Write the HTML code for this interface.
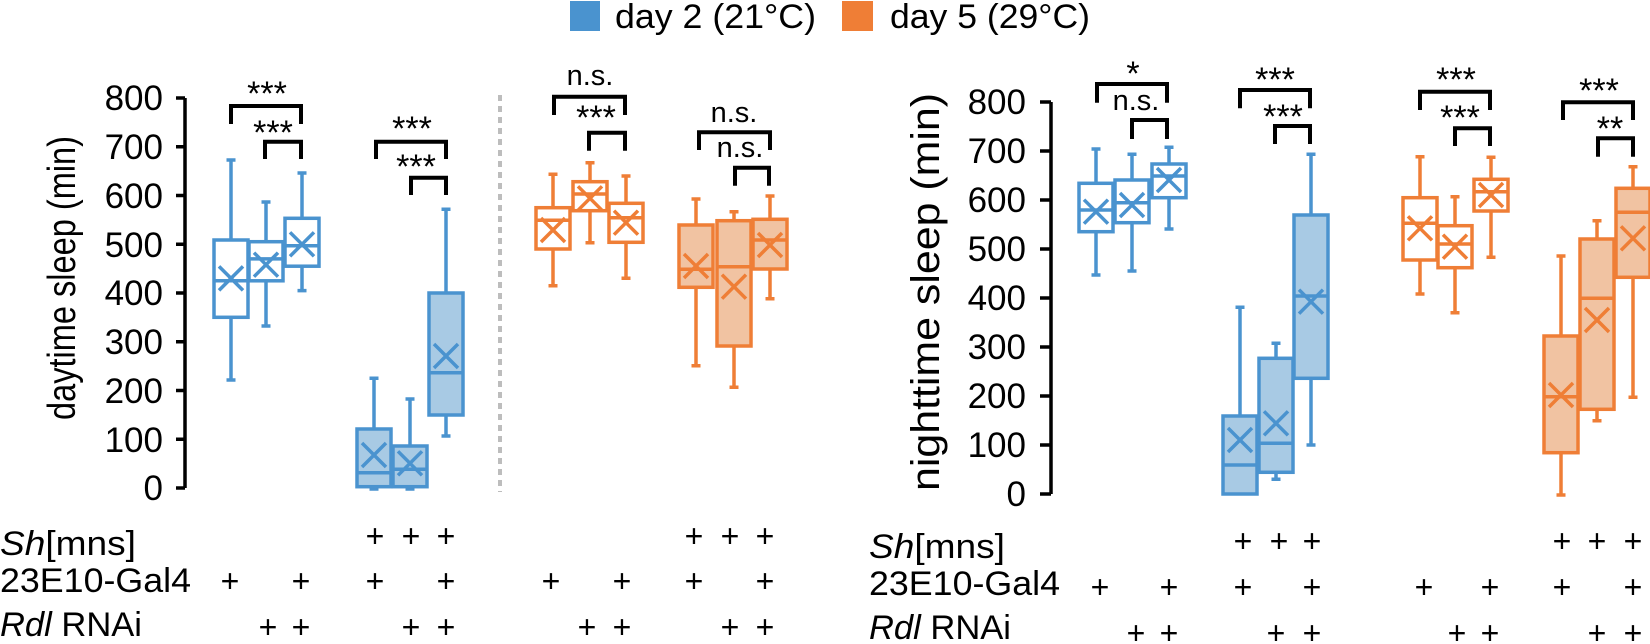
<!DOCTYPE html><html><head><style>body{margin:0;background:#fff}svg{display:block}text{font-family:"Liberation Sans",sans-serif}</style></head><body>
<svg width="1650" height="644" viewBox="0 0 1650 644" xmlns="http://www.w3.org/2000/svg">
<defs>
<g id="x"><path d="M-12,-12L12,12M-12,12L12,-12" stroke-width="3.5"/></g>
</defs>
<!-- legend -->
<rect x="570" y="1" width="30" height="30" fill="#4a93cf"/>
<text x="615" y="28" font-size="34" textLength="201" lengthAdjust="spacingAndGlyphs">day 2 (21°C)</text>
<rect x="842" y="1" width="31" height="30" fill="#ef7e36"/>
<text x="890" y="28" font-size="34" textLength="200" lengthAdjust="spacingAndGlyphs">day 5 (29°C)</text>

<!-- left axis -->
<g stroke="#000" stroke-width="3.5" fill="none">
<path d="M185,98V488M176,98H185M176,146.75H185M176,195.5H185M176,244.25H185M176,293H185M176,341.75H185M176,390.5H185M176,439.25H185M176,488H185"/>
</g>
<g font-size="35" text-anchor="end">
<text x="163" y="110">800</text><text x="163" y="159">700</text><text x="163" y="208">600</text><text x="163" y="257">500</text><text x="163" y="305">400</text><text x="163" y="354">300</text><text x="163" y="403">200</text><text x="163" y="452">100</text><text x="163" y="500">0</text>
</g>
<text transform="translate(75,136) rotate(-90)" font-size="39" text-anchor="end" textLength="284" lengthAdjust="spacingAndGlyphs">daytime sleep (min)</text>
<path d="M500,95V492" stroke="#bdbdbd" stroke-width="4" stroke-dasharray="6,5"/>

<!-- right axis -->
<g stroke="#000" stroke-width="3.5" fill="none">
<path d="M1051,102V494M1040,102H1051M1040,151H1051M1040,200H1051M1040,249H1051M1040,298H1051M1040,347H1051M1040,396H1051M1040,445H1051M1040,494H1051"/>
</g>
<g font-size="35" text-anchor="end">
<text x="1026" y="114">800</text><text x="1026" y="163">700</text><text x="1026" y="212">600</text><text x="1026" y="261">500</text><text x="1026" y="310">400</text><text x="1026" y="359">300</text><text x="1026" y="408">200</text><text x="1026" y="457">100</text><text x="1026" y="506">0</text>
</g>
<text transform="translate(939,93) rotate(-90)" font-size="40" text-anchor="end" textLength="398" lengthAdjust="spacingAndGlyphs">nighttime sleep (min)</text>

<!-- blue boxes -->
<g stroke="#4a93cf" stroke-width="3.5">
<g fill="#fff">
<path d="M231,380V160M226.5,380H235.5M226.5,160H235.5" fill="none"/><rect x="214" y="240" width="34" height="77.3"/><path d="M214,280.8H248"/><use href="#x" x="231" y="278.4"/>
<path d="M266,326V202M261.5,326H270.5M261.5,202H270.5" fill="none"/><rect x="249" y="241.7" width="34" height="39.1"/><path d="M249,258.9H283"/><use href="#x" x="266" y="264.7"/>
<path d="M302,290.6V173M297.5,290.6H306.5M297.5,173H306.5" fill="none"/><rect x="285" y="218.3" width="34" height="47.9"/><path d="M285,245.7H319"/><use href="#x" x="302" y="244.3"/>
<path d="M1096,275V149M1091.5,275H1100.5M1091.5,149H1100.5" fill="none"/><rect x="1079" y="183.3" width="34" height="48.4"/><path d="M1079,210H1113"/><use href="#x" x="1096" y="211.7"/>
<path d="M1132,271V154.3M1127.5,271H1136.5M1127.5,154.3H1136.5" fill="none"/><rect x="1115" y="180" width="34" height="42.7"/><path d="M1115,202.7H1149"/><use href="#x" x="1132" y="205"/>
<path d="M1169,229V147.3M1164.5,229H1173.5M1164.5,147.3H1173.5" fill="none"/><rect x="1152" y="164" width="34" height="33.7"/><path d="M1152,176H1186"/><use href="#x" x="1169" y="180"/>
</g>
<g fill="#a8cae4">
<path d="M374,489V378.3M369.5,489H378.5M369.5,378.3H378.5" fill="none"/><rect x="357" y="429" width="34" height="57.7"/><path d="M357,472.7H391"/><use href="#x" x="374" y="455"/>
<path d="M410,489V399M405.5,489H414.5M405.5,399H414.5" fill="none"/><rect x="393" y="446" width="34" height="40.7"/><path d="M393,469.3H427"/><use href="#x" x="410" y="463.3"/>
<path d="M446,436V209.3M441.5,436H450.5M441.5,209.3H450.5" fill="none"/><rect x="429" y="293" width="34" height="122"/><path d="M429,372.7H463"/><use href="#x" x="446" y="356"/>
<path d="M1240,494V307.3M1235.5,307.3H1244.5" fill="none"/><rect x="1223" y="416" width="34" height="78"/><path d="M1223,465H1257"/><use href="#x" x="1240" y="440"/>
<path d="M1276,479.3V343.3M1271.5,479.3H1280.5M1271.5,343.3H1280.5" fill="none"/><rect x="1259" y="358.3" width="34" height="114"/><path d="M1259,443.3H1293"/><use href="#x" x="1276" y="423.3"/>
<path d="M1311,445V154.3M1306.5,445H1315.5M1306.5,154.3H1315.5" fill="none"/><rect x="1294" y="215" width="34" height="163.3"/><path d="M1294,296H1328"/><use href="#x" x="1311" y="301.7"/>
</g>
</g>

<!-- orange boxes -->
<g stroke="#ef7e36" stroke-width="3.5">
<g fill="#fff">
<path d="M553,285.7V174.3M548.5,285.7H557.5M548.5,174.3H557.5" fill="none"/><rect x="536" y="207.7" width="34" height="41.3"/><path d="M536,220.3H570"/><use href="#x" x="553" y="230"/>
<path d="M590,242.7V162.7M585.5,242.7H594.5M585.5,162.7H594.5" fill="none"/><rect x="573" y="181.7" width="34" height="29"/><path d="M573,194H607"/><use href="#x" x="590" y="198.3"/>
<path d="M626,278.3V176M621.5,278.3H630.5M621.5,176H630.5" fill="none"/><rect x="609" y="203.3" width="34" height="39"/><path d="M609,217.7H643"/><use href="#x" x="626" y="222.7"/>
<path d="M1420,294V156.7M1415.5,294H1424.5M1415.5,156.7H1424.5" fill="none"/><rect x="1403" y="197.7" width="34" height="62.3"/><path d="M1403,223.3H1437"/><use href="#x" x="1420" y="228.3"/>
<path d="M1455,312.7V196.7M1450.5,312.7H1459.5M1450.5,196.7H1459.5" fill="none"/><rect x="1438" y="225.7" width="34" height="42"/><path d="M1438,244H1472"/><use href="#x" x="1455" y="246.7"/>
<path d="M1491,257.3V157.3M1486.5,257.3H1495.5M1486.5,157.3H1495.5" fill="none"/><rect x="1474" y="179.3" width="34" height="31.7"/><path d="M1474,191.7H1508"/><use href="#x" x="1491" y="195"/>
</g>
<g fill="#f1c3a2">
<path d="M696,365.7V199M691.5,365.7H700.5M691.5,199H700.5" fill="none"/><rect x="679" y="225" width="34" height="62.3"/><path d="M679,269.3H713"/><use href="#x" x="696" y="266"/>
<path d="M734,387.3V211.7M729.5,387.3H738.5M729.5,211.7H738.5" fill="none"/><rect x="717" y="220.7" width="34" height="125.3"/><path d="M717,266.7H751"/><use href="#x" x="734" y="286.7"/>
<path d="M770,298.7V196M765.5,298.7H774.5M765.5,196H774.5" fill="none"/><rect x="753" y="219.3" width="34" height="49.7"/><path d="M753,240H787"/><use href="#x" x="770" y="245"/>
<path d="M1561,495V256M1556.5,495H1565.5M1556.5,256H1565.5" fill="none"/><rect x="1544" y="336" width="34" height="116.7"/><path d="M1544,396.7H1578"/><use href="#x" x="1561" y="395"/>
<path d="M1597,420.7V220.7M1592.5,420.7H1601.5M1592.5,220.7H1601.5" fill="none"/><rect x="1580" y="239" width="34" height="170.3"/><path d="M1580,298.3H1614"/><use href="#x" x="1597" y="320"/>
<path d="M1633,397.3V166.7M1628.5,397.3H1637.5M1628.5,166.7H1637.5" fill="none"/><rect x="1616" y="188.3" width="34" height="89"/><path d="M1616,212.3H1650"/><use href="#x" x="1633" y="238.3"/>
</g>
</g>

<!-- significance brackets -->
<g stroke="#000" stroke-width="4" fill="none">
<path d="M231,124V106H301V124M265,159V141.7H301V159"/>
<path d="M376,159V141.7H446V159M411,195V177.7H446V195"/>
<path d="M554,115V96.7H625V115M589,150.7V132.7H625V150.7"/>
<path d="M699,150V132.3H770V150M735,185.7V167.7H769V185.7"/>
<path d="M1097,102.7V84H1167V102.7M1132,139V120H1167V139"/>
<path d="M1240,108.3V90H1310V108.3M1275,144V126H1310V144"/>
<path d="M1420,110V91.7H1490V110M1455,146V128.3H1490V146"/>
<path d="M1563,120V102.3H1633V120M1598,156.7V138.3H1633V156.7"/>
</g>
<g font-size="34" text-anchor="middle">
<text x="267" y="105">***</text><text x="273" y="144">***</text>
<text x="412" y="140">***</text><text x="416" y="178">***</text>
<text x="596" y="129">***</text>
<text x="1133" y="85">*</text>
<text x="1275" y="91">***</text><text x="1283" y="128">***</text>
<text x="1456" y="91">***</text><text x="1460" y="129">***</text>
<text x="1599" y="102">***</text><text x="1610" y="140">**</text>
</g>
<g font-size="29" text-anchor="middle">
<text x="590" y="85">n.s.</text>
<text x="734" y="122">n.s.</text><text x="740" y="157">n.s.</text>
<text x="1136" y="110">n.s.</text>
</g>

<!-- bottom labels -->
<g font-size="34">
<text x="0" y="555" textLength="136" lengthAdjust="spacingAndGlyphs"><tspan font-style="italic">Sh</tspan>[mns]</text>
<text x="0" y="592" textLength="191" lengthAdjust="spacingAndGlyphs">23E10-Gal4</text>
<text x="0" y="636" textLength="142" lengthAdjust="spacingAndGlyphs"><tspan font-style="italic">Rdl</tspan> RNAi</text>
<text x="869" y="558" textLength="136" lengthAdjust="spacingAndGlyphs"><tspan font-style="italic">Sh</tspan>[mns]</text>
<text x="869" y="595" textLength="191" lengthAdjust="spacingAndGlyphs">23E10-Gal4</text>
<text x="869" y="639" textLength="142" lengthAdjust="spacingAndGlyphs"><tspan font-style="italic">Rdl</tspan> RNAi</text>
</g>
<g font-size="32" text-anchor="middle">
<text x="375" y="547">+</text><text x="411" y="547">+</text><text x="446" y="547">+</text>
<text x="694" y="547">+</text><text x="730" y="547">+</text><text x="765" y="547">+</text>
<text x="230" y="592">+</text><text x="301" y="592">+</text><text x="375" y="592">+</text><text x="446" y="592">+</text>
<text x="551" y="592">+</text><text x="622" y="592">+</text><text x="694" y="592">+</text><text x="765" y="592">+</text>
<text x="268" y="638">+</text><text x="301" y="638">+</text><text x="411" y="638">+</text><text x="446" y="638">+</text>
<text x="587" y="638">+</text><text x="622" y="638">+</text><text x="730" y="638">+</text><text x="765" y="638">+</text>

<text x="1243" y="552">+</text><text x="1279" y="552">+</text><text x="1312" y="552">+</text>
<text x="1562" y="552">+</text><text x="1597" y="552">+</text><text x="1633" y="552">+</text>
<text x="1100" y="598">+</text><text x="1169" y="598">+</text><text x="1243" y="598">+</text><text x="1312" y="598">+</text>
<text x="1424" y="598">+</text><text x="1490" y="598">+</text><text x="1562" y="598">+</text><text x="1633" y="598">+</text>
<text x="1136" y="644">+</text><text x="1169" y="644">+</text><text x="1276" y="644">+</text><text x="1312" y="644">+</text>
<text x="1457" y="644">+</text><text x="1490" y="644">+</text><text x="1597" y="644">+</text><text x="1633" y="644">+</text>
</g>
</svg>
</body></html>
